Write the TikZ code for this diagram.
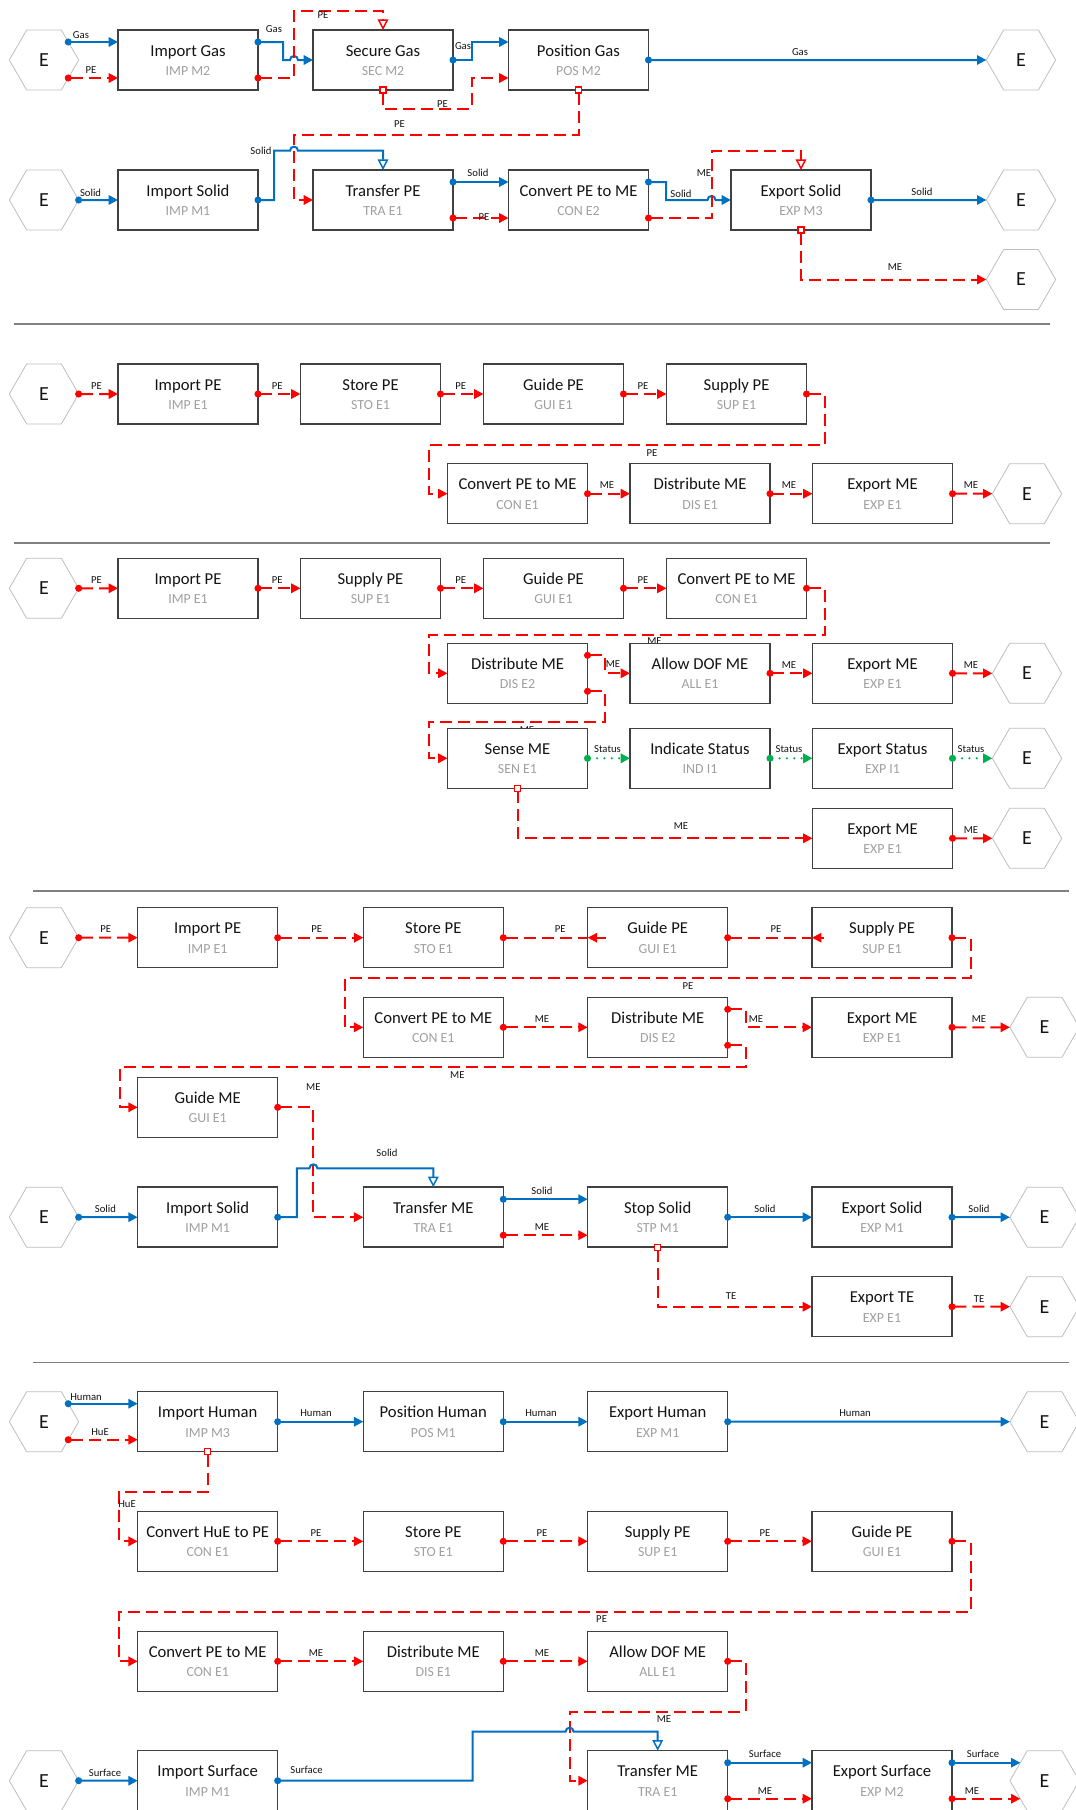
\documentclass[tikz,border=0pt]{standalone}
\usepackage{fontspec}
\setmainfont{Carlito}
\usetikzlibrary{arrows.meta,shapes.geometric,calc}
\definecolor{fblue}{RGB}{0,112,192}
\definecolor{fred}{RGB}{255,0,0}
\definecolor{fgreen}{RGB}{0,176,80}
\definecolor{boxc}{RGB}{64,64,64}
\definecolor{subc}{RGB}{160,160,160}
\definecolor{hexc}{RGB}{190,190,190}
\definecolor{sepc}{RGB}{128,128,128}
\definecolor{txtc}{RGB}{20,20,20}
\tikzset{
 fbox/.style={draw=boxc, line width=1.1pt, fill=white, minimum width=105pt, minimum height=45pt, inner sep=0pt, outer sep=0pt},
 ftit/.style={anchor=base, inner sep=0pt, font=\fontsize{12.5}{15}\selectfont, text=txtc},
 fsub/.style={anchor=base, inner sep=0pt, font=\fontsize{10.4}{12}\selectfont, text=subc},
 hexn/.style={regular polygon, regular polygon sides=6, minimum size=52pt, inner sep=0pt, outer sep=0pt, draw=hexc, line width=0.6pt, fill=white, font=\fontsize{15}{18}\selectfont, text=txtc},
 lbl/.style={inner sep=0pt, font=\fontsize{8}{9.6}\selectfont, text=txtc},
 sepline/.style={draw=sepc, line width=1pt},
 bl/.style={draw=fblue, line width=1.5pt},
 rd/.style={draw=fred, line width=1.5pt, dash pattern=on 9pt off 4.5pt},
 gn/.style={draw=fgreen, line width=1.8pt, dash pattern=on 0pt off 5.5pt, line cap=round},
 da/.style={shorten <=-2.6pt, {Circle[length=5.2pt]}-{Triangle[length=7pt,width=7pt]}},
 do/.style={shorten <=-2.6pt, {Circle[length=5.2pt]}-{Triangle[length=8pt,width=8pt,fill=white,line width=1.1pt]}},
 sqa/.style={shorten <=-2.75pt, {Square[length=5.5pt,width=5.5pt,fill=white,line width=0.9pt]}-{Triangle[length=7pt,width=7pt]}},
 donly/.style={shorten <=-2.6pt, {Circle[length=5.2pt]}-},
 revtip/.style={draw=fred, line width=1.5pt, -{Triangle[length=7pt,width=7pt]}},
}
\newcommand{\fnode}[5]{%
  \node[fbox] (#1) at (#2,#3) {};
  \node[ftit] at ([yshift=3pt]#1.center) {#4};
  \node[fsub] at ([yshift=-11.6pt]#1.center) {#5};
}
\newcommand{\hop}[1]{-- ($(#1)+(-4,0)$) .. controls ($(#1)+(-4,-5.3)$) and ($(#1)+(4,-5.3)$) .. ($(#1)+(4,0)$)}
\begin{document}
\begin{tikzpicture}[x=0.75pt,y=-0.75pt]
\path[use as bounding box, fill=white] (0,0) rectangle (1075,1810);

% labels partly hidden behind boxes
\node[lbl] at (654.5,641.5) {ME};
\node[lbl] at (527,730) {ME};

% ---------- Section 1 ----------
\node[hexn] (h1a) at (44,60) {E};
\node[hexn] (h1b) at (1021,60) {E};
\node[hexn] (h1c) at (44,200) {E};
\node[hexn] (h1d) at (1021,200) {E};
\node[hexn] (h1e) at (1021,279.5) {E};
\fnode{ig}{188}{60}{Import Gas}{IMP M2}
\fnode{sg}{383}{60}{Secure Gas}{SEC M2}
\fnode{pg}{578.5}{60}{Position Gas}{POS M2}
\fnode{is}{188}{200}{Import Solid}{IMP M1}
\fnode{tp}{383}{200}{Transfer PE}{TRA E1}
\fnode{cp}{578.5}{200}{Convert PE to ME}{CON E2}
\fnode{es}{801}{200}{Export Solid}{EXP M3}

\coordinate (j1) at (294,60);
\coordinate (j2) at (294,150.7);
\coordinate (j3) at (711.5,200);
\draw[bl,da] ($(h1a.center)+(24.25,-18)$) -- ($(ig.west)+(0,-18)$);
\draw[rd,da] ($(h1a.center)+(24.25,18)$) -- ($(ig.west)+(0,18)$);
\draw[bl,da] ($(ig.east)+(0,-18)$) -| (283,60) \hop{j1} -- (sg.west);
\draw[rd,do] ($(ig.east)+(0,18)$) -| (294,10.7) -| (sg.north);
\draw[bl,da] (sg.east) -| (472,42) -- ($(pg.west)+(0,-18)$);
\draw[rd,sqa] (sg.south) |- (472,108.7) |- ($(pg.west)+(0,18)$);
\draw[bl,da] (pg.east) -- (h1b.west);
\draw[rd,sqa] (pg.south) |- (294,134.7) |- (tp.west);
\draw[bl,da] (h1c.east) -- (is.west);
\draw[bl,do] (is.east) -| (274,150.7) \hop{j2} -| (tp.north);
\draw[bl,da] ($(tp.east)+(0,-18)$) -- ($(cp.west)+(0,-18)$);
\draw[rd,da] ($(tp.east)+(0,18)$) -- ($(cp.west)+(0,18)$);
\draw[bl,da] ($(cp.east)+(0,-18)$) -| (666,200) \hop{j3} -- (es.west);
\draw[rd,do] ($(cp.east)+(0,18)$) -| (711.5,150.7) -| (es.north);
\draw[bl,da] (es.east) -- (h1d.west);
\draw[rd,sqa] (es.south) |- (h1e.west);

\node[lbl] at (81,35) {Gas};
\node[lbl] at (91,70.3) {PE};
\node[lbl] at (274,29.3) {Gas};
\node[lbl] at (323,15) {PE};
\node[lbl] at (463,45.7) {Gas};
\node[lbl] at (442.5,104.3) {PE};
\node[lbl] at (800,52) {Gas};
\node[lbl] at (399.5,124.3) {PE};
\node[lbl] at (261,150.7) {Solid};
\node[lbl] at (90.6,193.3) {Solid};
\node[lbl] at (478,173.3) {Solid};
\node[lbl] at (484,216.7) {PE};
\node[lbl] at (681,194) {Solid};
\node[lbl] at (704,173.3) {ME};
\node[lbl] at (922,192) {Solid};
\node[lbl] at (895,267.5) {ME};

% separators
\draw[sepline] (14,324) -- (1050,324);
\draw[sepline] (14,543) -- (1050,543);
\draw[sepline] (33,891) -- (1069,891);
\draw[sepline] (33,1362.5) -- (1069,1362.5);

% ---------- Section 2 ----------
\node[hexn] (h2a) at (44,394) {E};
\fnode{b2a}{188}{394}{Import PE}{IMP E1}
\fnode{b2b}{370.5}{394}{Store PE}{STO E1}
\fnode{b2c}{553.5}{394}{Guide PE}{GUI E1}
\fnode{b2d}{736.5}{394}{Supply PE}{SUP E1}
\fnode{b2e}{517.5}{493.7}{Convert PE to ME}{CON E1}
\fnode{b2f}{700}{493.7}{Distribute ME}{DIS E1}
\fnode{b2g}{882.5}{493.7}{Export ME}{EXP E1}
\node[hexn] (h2b) at (1027,493.7) {E};
\draw[rd,da] (h2a.east) -- (b2a.west);
\draw[rd,da] (b2a.east) -- (b2b.west);
\draw[rd,da] (b2b.east) -- (b2c.west);
\draw[rd,da] (b2c.east) -- (b2d.west);
\draw[rd,da] (b2d.east) -| (825,445) -| (429,493.7) -- (b2e.west);
\draw[rd,da] (b2e.east) -- (b2f.west);
\draw[rd,da] (b2f.east) -- (b2g.west);
\draw[rd,da] (b2g.east) -- (h2b.west);
\foreach \x in {96.4,277.2,460.7,643} \node[lbl] at (\x,386) {PE};
\node[lbl] at (652,452.7) {PE};
\foreach \x in {607,789,971} \node[lbl] at (\x,485) {ME};

% ---------- Section 3 ----------
\node[hexn] (h3a) at (44,588.3) {E};
\fnode{b3a}{188}{588.3}{Import PE}{IMP E1}
\fnode{b3b}{370.5}{588.3}{Supply PE}{SUP E1}
\fnode{b3c}{553.5}{588.3}{Guide PE}{GUI E1}
\fnode{b3d}{736.5}{588.3}{Convert PE to ME}{CON E1}
\fnode{b3e}{517.5}{673.3}{Distribute ME}{DIS E2}
\fnode{b3f}{700}{673.3}{Allow DOF ME}{ALL E1}
\fnode{b3g}{882.5}{673.3}{Export ME}{EXP E1}
\node[hexn] (h3b) at (1027,673.3) {E};
\fnode{b3h}{517.5}{758.3}{Sense ME}{SEN E1}
\fnode{b3i}{700}{758.3}{Indicate Status}{IND I1}
\fnode{b3j}{882.5}{758.3}{Export Status}{EXP I1}
\node[hexn] (h3c) at (1027,758.3) {E};
\fnode{b3k}{882.5}{838.3}{Export ME}{EXP E1}
\node[hexn] (h3d) at (1027,838.3) {E};
\draw[rd,da] (h3a.east) -- (b3a.west);
\draw[rd,da] (b3a.east) -- (b3b.west);
\draw[rd,da] (b3b.east) -- (b3c.west);
\draw[rd,da] (b3c.east) -- (b3d.west);
\draw[rd,da] (b3d.east) -| (825,635) -| (429,673.3) -- (b3e.west);
\draw[rd,da] ($(b3e.east)+(0,-18)$) -| (605,673.3) -- (b3f.west);
\draw[rd,da] ($(b3e.east)+(0,18)$) -| (605,721.7) -| (429,758.3) -- (b3h.west);
\draw[rd,da] (b3f.east) -- (b3g.west);
\draw[rd,da] (b3g.east) -- (h3b.west);
\draw[gn,da] (b3h.east) -- (b3i.west);
\draw[gn,da] (b3i.east) -- (b3j.west);
\draw[gn,da] (b3j.east) -- (h3c.west);
\draw[rd,sqa] (b3h.south) |- (b3k.west);
\draw[rd,da] (b3k.east) -- (h3d.west);
\foreach \x in {96.4,277.2,460.7,643} \node[lbl] at (\x,580) {PE};
\node[lbl] at (613,664.3) {ME};
\node[lbl] at (789,665) {ME};
\node[lbl] at (971,665) {ME};
\foreach \x in {607.5,789,971} \node[lbl] at (\x,749.3) {Status};
\node[lbl] at (681,826) {ME};
\node[lbl] at (971,830) {ME};

% ---------- Section 4 ----------
\node[hexn] (h4a) at (44,937.7) {E};
\fnode{b4a}{207.7}{937.7}{Import PE}{IMP E1}
\fnode{b4b}{433.3}{937.7}{Store PE}{STO E1}
\fnode{b4c}{657.7}{937.7}{Guide PE}{GUI E1}
\fnode{b4d}{882}{937.7}{Supply PE}{SUP E1}
\fnode{b4e}{433.3}{1027.3}{Convert PE to ME}{CON E1}
\fnode{b4f}{657.7}{1027.3}{Distribute ME}{DIS E2}
\fnode{b4g}{882}{1027.3}{Export ME}{EXP E1}
\node[hexn] (h4b) at (1044.6,1027.3) {E};
\fnode{b4h}{207.7}{1107.3}{Guide ME}{GUI E1}
\node[hexn] (h4c) at (44,1217.2) {E};
\fnode{b4i}{207.7}{1217.2}{Import Solid}{IMP M1}
\fnode{b4j}{433.3}{1217.2}{Transfer ME}{TRA E1}
\fnode{b4k}{657.7}{1217.2}{Stop Solid}{STP M1}
\fnode{b4l}{882}{1217.2}{Export Solid}{EXP M1}
\node[hexn] (h4d) at (1044.6,1217.2) {E};
\fnode{b4m}{882}{1306.7}{Export TE}{EXP E1}
\node[hexn] (h4e) at (1044.6,1306.7) {E};
\coordinate (j4) at (313.4,1168.3);
\draw[rd,da] (h4a.east) -- (b4a.west);
\draw[rd,da] (b4a.east) -- (b4b.west);
\draw[rd,donly] (b4b.east) -- (b4c.west);
\draw[revtip] ($(b4c.west)+(18,0)$) -- (b4c.west);
\draw[rd,donly] (b4c.east) -- (b4d.west);
\draw[revtip] ($(b4d.west)+(12,0)$) -- (b4d.west);
\draw[rd,da] (b4d.east) -| (971,978.3) -| (344.5,1027.3) -- (b4e.west);
\draw[rd,da] (b4e.east) -- (b4f.west);
\draw[rd,da] ($(b4f.east)+(0,-18)$) -| (746,1027.3) -- (b4g.west);
\draw[rd,da] ($(b4f.east)+(0,18)$) -| (746,1067.3) -| (119.5,1107.3) -- (b4h.west);
\draw[rd,da] (b4g.east) -- (h4b.west);
\draw[rd,da] (b4h.east) -| (313.4,1217.2) -- (b4j.west);
\draw[bl,do] (b4i.east) -| (296.8,1168.3) \hop{j4} -| (b4j.north);
\draw[bl,da] (h4c.east) -- (b4i.west);
\draw[bl,da] ($(b4j.east)+(0,-18)$) -- ($(b4k.west)+(0,-18)$);
\draw[rd,da] ($(b4j.east)+(0,18)$) -- ($(b4k.west)+(0,18)$);
\draw[bl,da] (b4k.east) -- (b4l.west);
\draw[bl,da] (b4l.east) -- (h4d.west);
\draw[rd,sqa] (b4k.south) |- (b4m.west);
\draw[rd,da] (b4m.east) -- (h4e.west);
\foreach \x in {105.7,316.8,560.3,776} \node[lbl] at (\x,929.3) {PE};
\node[lbl] at (688,986) {PE};
\node[lbl] at (542,1019.3) {ME};
\node[lbl] at (756,1019.3) {ME};
\node[lbl] at (979,1019.3) {ME};
\node[lbl] at (457.3,1075) {ME};
\node[lbl] at (313.4,1087.3) {ME};
\node[lbl] at (387,1152.7) {Solid};
\node[lbl] at (105.4,1209.3) {Solid};
\node[lbl] at (542,1191) {Solid};
\node[lbl] at (542,1227.3) {ME};
\node[lbl] at (765,1209.3) {Solid};
\node[lbl] at (979,1209.3) {Solid};
\node[lbl] at (731,1295.7) {TE};
\node[lbl] at (979,1298.7) {TE};

% ---------- Section 5 ----------
\node[hexn] (h5a) at (44,1421.7) {E};
\fnode{b5a}{207.7}{1421.7}{Import Human}{IMP M3}
\fnode{b5b}{433.3}{1421.7}{Position Human}{POS M1}
\fnode{b5c}{657.7}{1421.7}{Export Human}{EXP M1}
\node[hexn] (h5b) at (1044.6,1421.7) {E};
\fnode{b5d}{207.7}{1541.3}{Convert HuE to PE}{CON E1}
\fnode{b5e}{433.3}{1541.3}{Store PE}{STO E1}
\fnode{b5f}{657.7}{1541.3}{Supply PE}{SUP E1}
\fnode{b5g}{882}{1541.3}{Guide PE}{GUI E1}
\fnode{b5h}{207.7}{1661.3}{Convert PE to ME}{CON E1}
\fnode{b5i}{433.3}{1661.3}{Distribute ME}{DIS E1}
\fnode{b5j}{657.7}{1661.3}{Allow DOF ME}{ALL E1}
\node[hexn] (h5c) at (44,1780.7) {E};
\fnode{b5k}{207.7}{1780.7}{Import Surface}{IMP M1}
\fnode{b5l}{657.7}{1780.7}{Transfer ME}{TRA E1}
\fnode{b5m}{882}{1780.7}{Export Surface}{EXP M2}
\node[hexn] (h5d) at (1044.6,1780.7) {E};
\coordinate (j5) at (569.6,1731.7);
\draw[bl,da] ($(h5a.center)+(24.25,-18)$) -- ($(b5a.west)+(0,-18)$);
\draw[rd,da] ($(h5a.center)+(24.25,18)$) -- ($(b5a.west)+(0,18)$);
\draw[bl,da] (b5a.east) -- (b5b.west);
\draw[bl,da] (b5b.east) -- (b5c.west);
\draw[bl,da] (b5c.east) -- (h5b.west);
\draw[rd,sqa] (b5a.south) |- (119,1492.3) |- (b5d.west);
\draw[rd,da] (b5d.east) -- (b5e.west);
\draw[rd,da] (b5e.east) -- (b5f.west);
\draw[rd,da] (b5f.east) -- (b5g.west);
\draw[rd,da] (b5g.east) -| (971,1611.7) -| (119,1661.3) -- (b5h.west);
\draw[rd,da] (b5h.east) -- (b5i.west);
\draw[rd,da] (b5i.east) -- (b5j.west);
\draw[rd,da] (b5j.east) -| (746,1711.7) -| (569.6,1780.7) -- (b5l.west);
\draw[bl,da] (h5c.east) -- (b5k.west);
\draw[bl,do] (b5k.east) -| (472.5,1731.7) \hop{j5} -| (b5l.north);
\draw[bl,da] ($(b5l.east)+(0,-18)$) -- ($(b5m.west)+(0,-18)$);
\draw[rd,da] ($(b5l.east)+(0,18)$) -- ($(b5m.west)+(0,18)$);
\draw[bl,da] ($(b5m.east)+(0,-18)$) -- ($(h5d.center)+(-24.25,-18)$);
\draw[rd,da] ($(b5m.east)+(0,18)$) -- ($(h5d.center)+(-24.25,18)$);
\node[lbl] at (86,1396.7) {Human};
\node[lbl] at (100,1431.7) {HuE};
\node[lbl] at (316,1413.3) {Human};
\node[lbl] at (541,1413.3) {Human};
\node[lbl] at (855,1413.3) {Human};
\node[lbl] at (127,1504.3) {HuE};
\node[lbl] at (316,1533.3) {PE};
\node[lbl] at (542,1533.3) {PE};
\node[lbl] at (765,1533.3) {PE};
\node[lbl] at (601.6,1619.3) {PE};
\node[lbl] at (316,1652.7) {ME};
\node[lbl] at (542,1652.7) {ME};
\node[lbl] at (664,1719.3) {ME};
\node[lbl] at (105,1772.7) {Surface};
\node[lbl] at (306.5,1770) {Surface};
\node[lbl] at (765,1754.3) {Surface};
\node[lbl] at (765,1790.7) {ME};
\node[lbl] at (983,1754.3) {Surface};
\node[lbl] at (972,1790.7) {ME};
\end{tikzpicture}
\end{document}
